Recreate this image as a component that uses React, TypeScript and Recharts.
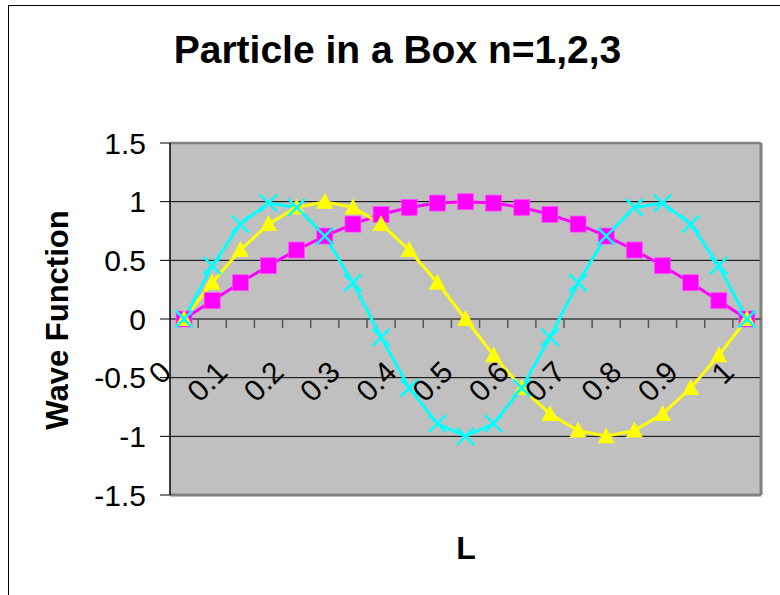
import React from 'react';
import { LineChart, Line, XAxis, YAxis, CartesianGrid, ReferenceLine } from 'recharts';

// Position along the box (fraction of L)
const positions = [0, 0.05, 0.1, 0.15, 0.2, 0.25, 0.3, 0.35, 0.4, 0.45, 0.5, 0.55, 0.6, 0.65, 0.7, 0.75, 0.8, 0.85, 0.9, 0.95, 1];
// Wave function values
const psiN1 = [0, 0.156, 0.309, 0.454, 0.588, 0.707, 0.809, 0.891, 0.951, 0.988, 1, 0.988, 0.951, 0.891, 0.809, 0.707, 0.588, 0.454, 0.309, 0.156, 0];
const psiN2 = [0, 0.309, 0.588, 0.809, 0.951, 1, 0.951, 0.809, 0.588, 0.309, 0, -0.309, -0.588, -0.809, -0.951, -1, -0.951, -0.809, -0.588, -0.309, 0];
const psiN3 = [0, 0.454, 0.809, 0.988, 0.951, 0.707, 0.309, -0.156, -0.588, -0.891, -1, -0.891, -0.588, -0.156, 0.309, 0.707, 0.951, 0.988, 0.809, 0.454, 0];

const xTickLabels = [0, 0.1, 0.2, 0.3, 0.4, 0.5, 0.6, 0.7, 0.8, 0.9, 1];
const categoryBoundaries = [0.025, 0.075, 0.125, 0.175, 0.225, 0.275, 0.325, 0.375, 0.425, 0.475, 0.525, 0.575, 0.625, 0.675, 0.725, 0.775, 0.825, 0.875, 0.925, 0.975];
const yTicks = [-1.5, -1, -0.5, 0, 0.5, 1, 1.5];

const titleText = 'Particle in a Box n=1,2,3';
const yAxisTitle = 'Wave Function';
const xAxisTitle = 'L';

const data = positions.map((x, i) => ({ x, n1: psiN1[i], n2: psiN2[i], n3: psiN3[i] }));

const W = 780;
const H = 595;
const PLOT_LEFT = 170;
const PLOT_RIGHT = 761;
const PLOT_TOP = 143;
const PLOT_BOTTOM = 495;
const Y_AXIS_W = 100;
const X_AXIS_H = 1;
const ZERO_Y = (PLOT_TOP + PLOT_BOTTOM) / 2;
const FONT = '"Liberation Sans", Arial, Helvetica, sans-serif';

const isLabelTick = (v: number) => xTickLabels.some((t) => Math.abs(t - v) < 1e-6);

const XTick = (props: any) => {
  const { x, payload } = props;
  const v = Math.round(payload.value * 1000) / 1000;
  if (!isLabelTick(v)) {
    return <line x1={x} x2={x} y1={ZERO_Y} y2={ZERO_Y + 9} stroke="#555" strokeWidth={1.5} />;
  }
  const ax = x - 11;
  const ay = ZERO_Y + 55;
  return (
    <text
      x={ax}
      y={ay}
      textAnchor="end"
      transform={`rotate(-45 ${ax} ${ay})`}
      fontSize={30}
      fill="#000"
      fontFamily={FONT}
    >
      {String(v)}
    </text>
  );
};

const SquareDot = (props: any) => {
  const { cx, cy, index } = props;
  if (cx == null || cy == null) return <g key={`s${index}`} />;
  return <rect key={`s${index}`} x={cx - 8} y={cy - 8} width={16} height={16} fill="#FF00FF" stroke="#FF55FF" strokeWidth={0.8} />;
};

const TriangleDot = (props: any) => {
  const { cx, cy, index } = props;
  if (cx == null || cy == null) return <g key={`t${index}`} />;
  return (
    <polygon
      key={`t${index}`}
      points={`${cx},${cy - 9} ${cx + 8.5},${cy + 7} ${cx - 8.5},${cy + 7}`}
      fill="#FFFF00"
    />
  );
};

const CrossDot = (props: any) => {
  const { cx, cy, index } = props;
  if (cx == null || cy == null) return <g key={`c${index}`} />;
  const r = 8.5;
  return (
    <g key={`c${index}`}>
      <line x1={cx - r} y1={cy - r} x2={cx + r} y2={cy + r} stroke="#00FFFF" strokeWidth={2.5} />
      <line x1={cx - r} y1={cy + r} x2={cx + r} y2={cy - r} stroke="#00FFFF" strokeWidth={2.5} />
    </g>
  );
};

export default function App() {
  return (
    <div style={{ position: 'absolute', left: 0, top: 0, width: W, height: H, overflow: 'hidden', background: '#fff' }}>
      <div style={{ position: 'absolute', left: 8, top: 5, width: 900, height: 800, border: '1px solid #000', boxSizing: 'border-box' }} />
      <div style={{ position: 'absolute', left: 0, top: 0 }}>
        <LineChart
          width={W}
          height={H}
          data={data}
          margin={{ top: PLOT_TOP, right: W - PLOT_RIGHT, left: PLOT_LEFT - Y_AXIS_W, bottom: H - PLOT_BOTTOM - X_AXIS_H }}
        >
          <CartesianGrid vertical={false} stroke="#000" strokeWidth={1} fill="#C0C0C0" fillOpacity={1} />
          <XAxis
            dataKey="x"
            type="number"
            domain={[-0.025, 1.025]}
            ticks={[...xTickLabels, ...categoryBoundaries].sort((a, b) => a - b)}
            interval={0}
            axisLine={false}
            tickLine={false}
            height={X_AXIS_H}
            tick={XTick}
          />
          <YAxis
            type="number"
            domain={[-1.5, 1.5]}
            ticks={yTicks}
            interval={0}
            width={Y_AXIS_W}
            axisLine={{ stroke: '#000', strokeWidth: 1.5 }}
            tickLine={{ stroke: '#000', strokeWidth: 1 }}
            tickSize={10}
            tickMargin={14}
            tick={{ fontSize: 30, fill: '#000', fontFamily: FONT }}
            tickFormatter={(v: number) => String(v)}
          />
          <ReferenceLine y={1.5} stroke="#808080" strokeWidth={2.5} />
          <ReferenceLine y={-1.5} stroke="#808080" strokeWidth={3} />
          <ReferenceLine x={1.025} stroke="#808080" strokeWidth={3} />
          <ReferenceLine y={0} stroke="#606060" strokeWidth={2} />
          <Line type="linear" dataKey="n1" stroke="#FF00FF" strokeWidth={3} dot={SquareDot} activeDot={false} isAnimationActive={false} />
          <Line type="linear" dataKey="n2" stroke="#FFFF00" strokeWidth={3} dot={TriangleDot} activeDot={false} isAnimationActive={false} />
          <Line type="linear" dataKey="n3" stroke="#00FFFF" strokeWidth={3} dot={CrossDot} activeDot={false} isAnimationActive={false} />
        </LineChart>
      </div>
      <svg width={W} height={H} style={{ position: 'absolute', left: 0, top: 0, pointerEvents: 'none' }}>
        <text x={397.5} y={63} textAnchor="middle" fontSize={39} fontWeight="bold" fontFamily={FONT} fill="#000">
          {titleText}
        </text>
        <text
          x={68}
          y={320}
          textAnchor="middle"
          transform="rotate(-90 68 320)"
          fontSize={31}
          fontWeight="bold"
          fontFamily={FONT}
          fill="#000"
        >
          {yAxisTitle}
        </text>
        <text x={466} y={559} textAnchor="middle" fontSize={32} fontWeight="bold" fontFamily={FONT} fill="#000">
          {xAxisTitle}
        </text>
      </svg>
    </div>
  );
}
